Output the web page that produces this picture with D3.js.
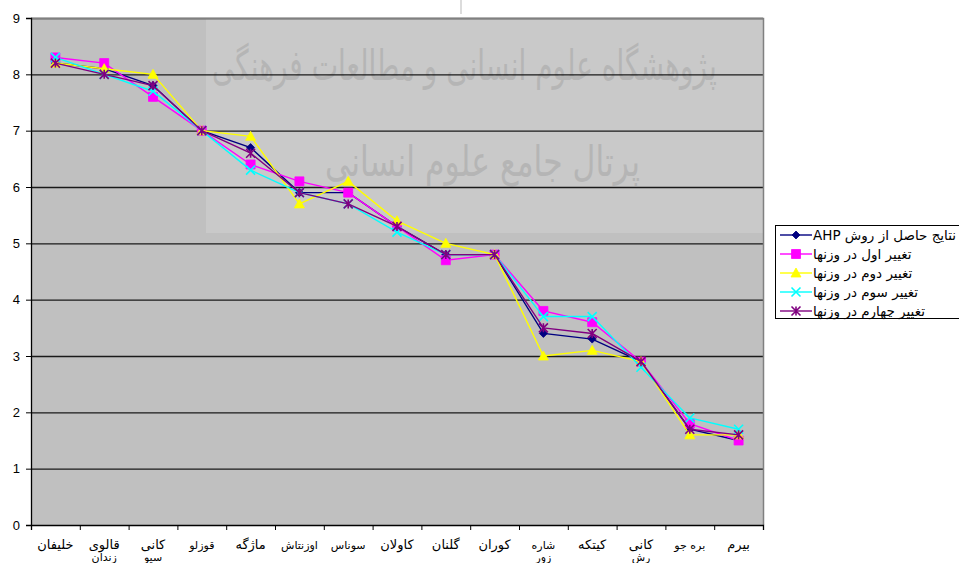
<!DOCTYPE html>
<html lang="fa">
<head>
<meta charset="UTF-8">
<title>AHP sensitivity chart</title>
<script src="https://d3js.org/d3.v7.min.js"></script>
<style>
  body { margin: 0; background: #fff; }
  svg { display: block; font-family: "Liberation Sans", Arial, "DejaVu Sans", sans-serif; }
</style>
</head>
<body>
<div id="chart"></div>
<script>
// categories (villages), each entry holds the label lines
const categories = [
  ["خلیفان"], ["قالوی", "زندان"], ["کانی", "سیو"], ["قوزلو"], ["ماژگه"],
  ["اوزنتاش"], ["سوناس"], ["کاولان"], ["گلنان"], ["کوران"],
  ["شاره", "زور"], ["کیتکه"], ["کانی", "رش"], ["بره جو"], ["بیرم"]
];
const smallLabels = [3, 5, 6, 10, 13];

const seriesNames = [
  "نتایج حاصل از روش AHP",
  "تغییر اول در وزنها",
  "تغییر دوم در وزنها",
  "تغییر سوم در وزنها",
  "تغییر چهارم در وزنها"
];
const ahp     = [8.2, 8.1, 7.8, 7.0, 6.7, 5.9, 5.9, 5.3, 4.8, 4.8, 3.4, 3.3, 2.9, 1.7, 1.5];
const change1 = [8.3, 8.2, 7.6, 7.0, 6.4, 6.1, 5.9, 5.3, 4.7, 4.8, 3.8, 3.6, 2.9, 1.8, 1.5];
const change2 = [8.2, 8.1, 8.0, 7.0, 6.9, 5.7, 6.1, 5.4, 5.0, 4.8, 3.0, 3.1, 2.9, 1.6, 1.6];
const change3 = [8.3, 8.0, 7.7, 7.0, 6.3, 5.9, 5.7, 5.2, 4.8, 4.8, 3.7, 3.7, 2.8, 1.9, 1.7];
const change4 = [8.2, 8.0, 7.8, 7.0, 6.6, 5.9, 5.7, 5.3, 4.8, 4.8, 3.5, 3.4, 2.9, 1.7, 1.6];
const yTicks = [0, 1, 2, 3, 4, 5, 6, 7, 8, 9];

const series = [ahp, change1, change2, change3, change4];
const colors = ["#000080", "#ff00ff", "#ffff00", "#00ffff", "#800080"];
const markers = ["diamond", "square", "triangle", "x", "star"];

const width = 959, height = 563;
const pLeft = 31, pRight = 763, pTop = 18, pBottom = 525;

const svg = d3.select("#chart").append("svg")
  .attr("width", width).attr("height", height);

const x = d3.scaleBand().domain(d3.range(categories.length)).range([pLeft, pRight]);
const xEdges = d3.scaleLinear().domain([0, categories.length]).range([pLeft, pRight]);
const y = d3.scaleLinear().domain([0, 9]).range([pBottom, pTop]);

// plot background
svg.append("rect")
  .attr("x", pLeft).attr("y", pTop)
  .attr("width", pRight - pLeft).attr("height", pBottom - pTop)
  .attr("fill", "#c0c0c0");

// watermark block (squeezed horizontally like the calligraphy)
const wm = svg.append("g");
wm.append("rect")
  .attr("x", 206).attr("y", pTop)
  .attr("width", pRight - 206).attr("height", 233 - pTop)
  .attr("fill", "#c9c9c9");
const wmText = (txt, tx, ty, w) => {
  const t = wm.append("text")
    .style("font-family", "'DejaVu Sans', serif")
    .style("font-size", "42px")
    .attr("fill", "#b5b5b5")
    .text(txt);
  const natural = t.node().getComputedTextLength() || w;
  t.attr("transform", `translate(${tx},${ty}) scale(${w / natural},1)`);
};
wmText("پژوهشگاه علوم انسانی و مطالعات فرهنگی", 212, 80, 505);
wmText("پرتال جامع علوم انسانی", 325, 176, 315);
svg.append("line")
  .attr("x1", 461).attr("x2", 461).attr("y1", 0).attr("y2", 14)
  .attr("stroke", "#dcdcdc").attr("stroke-width", 2);

// grid lines
svg.append("g")
  .attr("transform", `translate(${pLeft},0)`)
  .call(d3.axisLeft(y).tickValues(yTicks.slice(1)).tickSize(-(pRight - pLeft)).tickFormat(""))
  .call(g => g.select(".domain").remove())
  .call(g => g.selectAll(".tick line").attr("stroke", "#1a1a1a").attr("stroke-width", 1.3));

// plot border top / right
svg.append("path")
  .attr("d", `M${pLeft},${pTop + 0.5}H${pRight + 0.5}V${pBottom}`)
  .attr("fill", "none").attr("stroke", "#808080").attr("stroke-width", 1.5);

// y axis
const yAxis = svg.append("g")
  .attr("transform", `translate(${pLeft},0)`)
  .call(d3.axisLeft(y).tickValues(yTicks).tickSize(5).tickPadding(6).tickFormat(d3.format("d")));
yAxis.select(".domain").attr("stroke", "#000").attr("stroke-width", 1.3);
yAxis.selectAll(".tick line").attr("stroke", "#000");
yAxis.selectAll(".tick text")
  .style("font-size", "13px")
  .style("font-family", "'Liberation Sans', Arial, sans-serif")
  .attr("fill", "#000");

// x axis with ticks between categories
const xAxis = svg.append("g")
  .attr("transform", `translate(0,${pBottom})`)
  .call(d3.axisBottom(xEdges).tickValues(d3.range(categories.length + 1)).tickSize(5).tickFormat(""));
xAxis.select(".domain").attr("stroke", "#000").attr("stroke-width", 1.3);
xAxis.selectAll(".tick line").attr("stroke", "#000");

// category labels
const lbl = svg.append("g").selectAll("text")
  .data(categories)
  .join("text")
  .attr("text-anchor", "middle")
  .attr("x", (d, i) => x(i) + x.bandwidth() / 2)
  .attr("y", 549)
  .style("font-family", "'DejaVu Sans', sans-serif")
  .attr("fill", "#000");
lbl.each(function (d, i) {
  const t = d3.select(this);
  d.forEach((line, j) => {
    t.append("tspan")
      .attr("x", x(i) + x.bandwidth() / 2)
      .attr("dy", j === 0 ? 0 : 12)
      .style("font-size", (j > 0 || smallLabels.includes(i)) ? "11px" : "13px")
      .text(line);
  });
});

// marker shapes
function markerPath(type, s) {
  const h = s / 2;
  switch (type) {
    case "diamond": return `M0,${-h}L${h},0L0,${h}L${-h},0Z`;
    case "square": return `M${-h},${-h}H${h}V${h}H${-h}Z`;
    case "triangle": return `M0,${-h}L${h},${h * 0.8}H${-h}Z`;
    case "x": return `M${-h},${-h}L${h},${h}M${-h},${h}L${h},${-h}`;
    case "star": return `M${-h},${-h}L${h},${h}M${-h},${h}L${h},${-h}M0,${-h}V${h}`;
  }
}
function drawMarker(g, type, color, s) {
  const filled = type !== "x" && type !== "star";
  g.append("path")
    .attr("d", markerPath(type, s))
    .attr("fill", filled ? color : "none")
    .attr("stroke", color)
    .attr("stroke-width", filled ? 0.8 : 1.6);
}

const line = d3.line()
  .x((d, i) => x(i) + x.bandwidth() / 2)
  .y(d => y(d));

const sizes = [8, 9, 10, 9, 9];
series.forEach((vals, k) => {
  const g = svg.append("g");
  g.append("path")
    .datum(vals)
    .attr("d", line)
    .attr("fill", "none")
    .attr("stroke", colors[k])
    .attr("stroke-width", 1.4);
  g.selectAll("g.m")
    .data(vals)
    .join("g")
    .attr("class", "m")
    .attr("transform", (d, i) => `translate(${x(i) + x.bandwidth() / 2},${y(d)})`)
    .each(function () { drawMarker(d3.select(this), markers[k], colors[k], sizes[k]); });
});

// legend
const lg = svg.append("g");
lg.append("rect")
  .attr("x", 775.5).attr("y", 225.5)
  .attr("width", 200).attr("height", 93)
  .attr("fill", "#fff").attr("stroke", "#000");
seriesNames.forEach((name, k) => {
  const yy = 235 + k * 19;
  lg.append("line")
    .attr("x1", 780).attr("x2", 812).attr("y1", yy).attr("y2", yy)
    .attr("stroke", colors[k]).attr("stroke-width", 1.4);
  const mg = lg.append("g").attr("transform", `translate(796,${yy})`);
  drawMarker(mg, markers[k], colors[k], sizes[k]);
  lg.append("text")
    .attr("x", 813).attr("y", yy + 5)
    .attr("direction", "rtl")
    .attr("text-anchor", "end")
    .style("font-family", "'DejaVu Sans', sans-serif")
    .style("font-size", "13.5px")
    .attr("fill", "#000")
    .text(name);
});
</script>
</body>
</html>
